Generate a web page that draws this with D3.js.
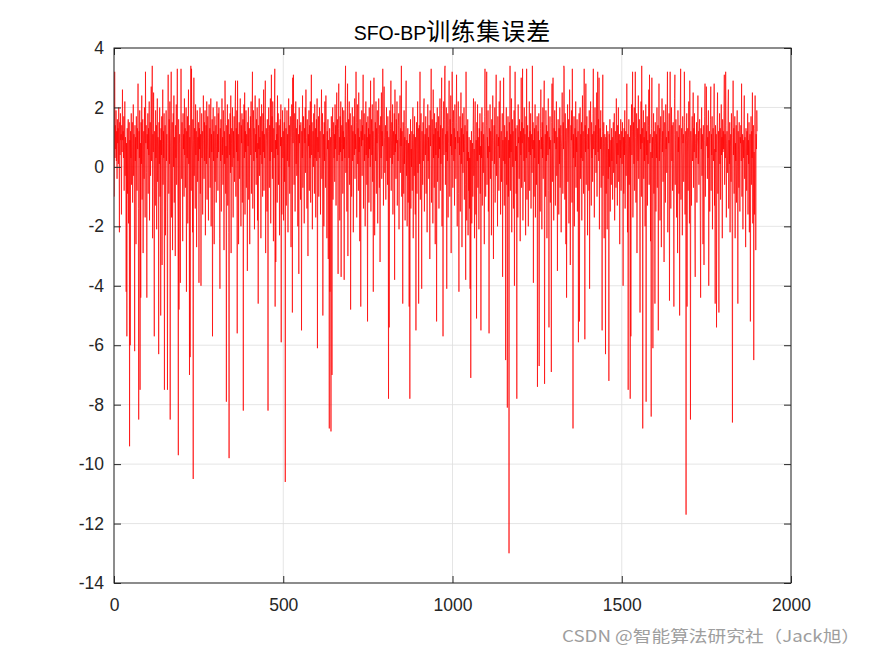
<!DOCTYPE html>
<html>
<head>
<meta charset="utf-8">
<script src="https://cdn.jsdelivr.net/npm/d3@7/dist/d3.min.js"></script>
<style>
  html, body { margin: 0; padding: 0; background: #fff; }
  svg { display: block; }
</style>
</head>
<body>
<svg id="chart" width="875" height="656"></svg>
<script>
// ---- data ----
const titleLatin = "SFO-BP";
const titleCJK = "训练集误差";
const watermark = "CSDN @智能算法研究社（Jack旭）";
const xTicks = [0, 500, 1000, 1500, 2000];
const yTicks = [-14, -12, -10, -8, -6, -4, -2, 0, 2, 4];
const xDomain = [0, 2000];
const yDomain = [-14, 4];
// training-set error, sample 1..1900
const errors = [
-1.0,3.2,0.3,1.4,0.6,1.9,0.2,1.2,-0.4,1.6,0.8,1.3,0.1,2.0,0.7,-2.2,1.5,0.4,1.8,0.9,1.1,-1.6,1.4,0.5,2.6,0.9,1.2,0.3,1.7,-0.8,0.6,2.2,-0.3,1.0,0.4,-4.2,0.8,-5.7,1.3,-0.9,0.5,1.6,-1.9,0.2,1.5,-9.4,0.9,-6.0,1.2,0.3,
1.8,-0.6,0.9,1.5,-1.2,0.4,2.1,-0.3,1.1,0.7,-6.2,1.4,0.2,1.0,-2.6,1.7,0.5,-0.8,1.3,0.6,2.8,-1.4,-8.5,1.2,0.3,1.9,-7.5,0.8,-4.4,1.5,0.1,2.4,-1.1,0.9,1.6,-2.9,0.7,1.2,-0.4,2.0,0.5,-1.7,3.2,0.8,1.4,-0.2,-4.4,1.1,0.6,1.8,
-0.9,1.3,0.4,2.2,-1.8,0.9,1.5,-0.3,1.0,2.7,0.2,1.6,3.4,-2.4,1.1,0.5,2.5,-0.7,-5.7,1.2,0.8,-1.3,1.9,0.3,1.4,-2.1,0.7,2.3,-0.5,1.0,0.6,-6.3,1.5,0.1,2.0,-1.0,0.9,-5.0,1.3,0.4,1.7,-3.3,0.8,2.6,-0.6,1.2,0.3,1.8,-7.5,0.9,
1.4,-2.3,0.6,1.9,0.2,1.1,-1.5,-7.5,0.8,3.1,0.5,-0.9,1.6,0.1,2.2,-8.5,0.7,1.3,3.2,-1.7,0.9,1.5,-2.8,0.4,1.8,0.0,2.4,-1.2,1.0,0.6,-3.0,1.4,0.3,2.1,-0.6,1.2,3.3,0.5,-2.0,-9.7,1.6,-4.8,0.8,1.1,-1.3,-3.9,0.7,3.3,1.0,-0.4,
1.5,0.2,-2.5,1.8,0.6,1.1,-1.0,2.3,0.4,1.3,-0.7,0.9,2.0,-4.2,1.2,0.3,1.7,-1.9,0.8,2.6,0.1,1.4,-7.0,1.0,-6.4,0.6,3.4,-0.8,3.3,1.1,0.5,-2.2,1.6,-10.5,0.9,3.0,-0.3,1.3,0.7,-1.4,2.1,0.4,1.2,-2.7,0.8,1.9,-0.5,1.0,0.2,1.5,
-3.9,1.3,0.6,2.0,-0.9,1.1,-4.0,0.7,1.8,0.3,1.2,-1.6,0.5,2.4,0.9,-0.4,1.5,0.2,1.9,-2.3,0.8,1.4,0.1,2.2,-1.1,0.6,1.7,0.4,-1.8,1.0,2.1,0.3,1.3,-0.7,0.9,2.3,-2.0,1.1,0.5,1.6,-5.7,0.8,2.0,0.2,1.2,-2.6,0.6,1.7,-0.5,1.0,
1.4,-1.2,0.7,2.2,0.3,1.1,-0.8,1.8,0.5,2.0,0.9,-2.4,-4.1,1.3,0.2,1.6,-1.5,0.8,2.3,0.4,1.0,-0.6,1.9,0.6,-2.8,1.2,0.1,2.9,1.5,-0.9,0.7,-7.9,1.4,0.3,2.1,-1.3,0.9,1.6,-2.2,-9.8,1.1,0.4,1.8,-0.2,2.4,-2.9,0.8,1.3,0.0,2.0,
0.6,-1.7,1.2,0.3,1.7,-0.5,0.9,2.2,2.9,-1.0,1.3,0.5,1.9,-5.6,2.9,0.2,1.1,-2.6,0.7,1.5,-0.4,1.0,2.3,0.4,-2.0,1.4,0.8,1.8,-1.2,0.6,1.6,-8.2,0.9,2.1,0.3,2.5,-1.6,1.2,0.5,1.9,-0.7,1.1,0.2,-3.5,1.5,0.7,2.0,-1.1,0.9,1.3,
-2.6,0.8,1.7,0.4,2.2,-0.9,1.0,1.5,3.2,-1.4,0.6,1.9,0.2,1.3,-2.1,0.9,2.4,0.5,1.1,-0.6,1.6,0.3,2.0,-1.8,0.8,-4.6,1.4,0.6,2.3,-0.3,1.0,0.4,1.7,-2.4,0.9,2.1,0.1,1.2,-1.0,1.8,0.5,2.6,-0.8,1.1,0.3,1.5,2.9,-2.9,0.7,1.3,
0.9,-1.5,1.6,0.4,-8.2,1.2,2.0,0.6,-0.7,1.4,0.2,2.3,-1.9,1.0,3.1,0.5,1.7,-0.4,2.2,0.8,-2.5,1.3,0.3,2.0,3.3,-4.7,0.9,-3.2,1.5,0.6,1.1,-1.2,2.4,0.4,1.8,-0.6,0.9,1.4,-2.3,0.2,1.6,0.7,2.1,-5.9,1.0,-1.6,0.5,1.9,0.3,1.2,
-1.8,0.9,1.5,-0.5,2.0,-10.6,0.4,1.3,-1.3,0.8,1.9,0.2,1.1,-2.2,0.6,2.3,0.0,1.4,-0.9,0.7,1.7,0.3,-2.7,1.0,2.1,0.5,-4.9,3.0,0.8,3.1,1.2,-0.6,0.4,1.8,-1.5,0.9,2.2,0.1,1.3,-0.3,0.7,1.6,-2.0,0.5,1.1,-3.6,2.0,0.8,1.4,0.2,
-1.1,1.5,0.6,-5.5,1.2,0.3,2.4,-0.7,0.9,1.7,0.4,-1.9,1.3,0.8,2.0,-0.2,2.6,1.0,0.5,-1.4,1.6,0.2,-3.0,1.1,0.7,1.9,-0.8,1.4,0.3,2.2,-1.2,0.9,3.1,0.4,1.5,-2.1,0.8,1.2,0.0,1.8,0.6,-0.9,2.1,0.3,1.3,-1.7,0.7,1.6,0.2,2.3,
-6.1,1.0,0.5,1.7,-1.0,0.8,2.0,0.3,1.2,-1.6,0.6,1.4,2.6,-0.4,0.9,1.8,-5.0,0.4,1.1,-2.0,1.5,0.2,2.2,0.7,-0.7,2.4,1.0,0.3,-2.4,1.2,0.6,1.6,-3.1,0.9,0.1,-8.8,1.3,-4.2,0.5,1.0,-8.9,1.7,0.4,-7.0,1.2,2.0,-1.1,0.8,1.5,0.3,
1.1,-0.5,2.1,0.6,1.4,-1.3,0.8,2.5,0.2,1.6,0.9,-3.6,1.3,2.8,0.4,1.0,-1.8,1.7,0.5,2.2,-3.7,0.8,1.4,0.2,2.0,-0.9,1.2,0.6,1.9,-3.8,1.0,0.3,2.4,3.4,-0.2,1.5,0.7,-1.5,1.1,2.8,-3.0,0.9,1.6,0.3,2.2,-0.6,1.0,1.8,-4.8,0.5,
1.4,-1.0,0.7,2.0,0.2,1.2,-2.2,0.9,1.7,0.4,2.3,-0.4,1.1,0.6,3.2,1.5,-1.7,0.8,2.1,0.1,1.3,-0.8,2.5,0.5,1.0,-2.5,1.6,0.3,-4.7,1.2,0.7,1.9,-0.3,1.4,0.9,3.1,-1.4,0.6,1.8,0.2,1.1,-2.0,0.8,2.2,0.4,1.5,-0.6,1.0,-5.2,1.7,
0.3,1.3,-1.2,2.0,0.6,1.1,0.0,2.9,-1.5,0.9,1.6,0.4,2.1,-0.5,1.2,-4.2,0.7,3.0,1.0,-2.3,0.5,1.5,0.2,2.2,-0.9,1.3,0.8,1.9,-1.9,0.4,1.1,2.3,0.6,-0.7,1.4,-3.2,0.9,1.7,0.3,2.5,-0.4,1.2,0.7,3.3,1.6,-1.3,0.5,2.7,1.0,-0.2,
0.8,1.4,-1.1,0.5,2.0,0.2,1.2,-0.6,1.7,0.4,-7.8,1.0,-5.4,0.6,1.9,0.3,1.3,2.9,-0.8,0.9,1.5,0.1,2.1,-1.6,0.7,1.2,0.4,1.8,-3.8,2.6,0.5,1.1,-0.4,1.6,0.8,2.2,-1.3,0.9,0.2,1.4,1.8,-2.1,0.6,1.0,2.4,-0.2,1.3,0.7,3.4,-1.0,
1.2,0.3,-4.6,1.5,0.6,-0.9,1.9,0.1,1.0,-1.8,0.7,1.4,2.9,-0.3,0.9,-2.0,0.4,1.3,-1.2,0.8,-0.5,-4.7,1.1,-7.8,0.2,1.6,-1.4,0.6,0.0,1.2,-0.8,0.9,2.0,-2.4,0.5,1.1,-0.3,1.7,0.4,-1.6,1.0,-5.5,0.6,1.5,-0.9,0.8,2.2,-0.2,1.3,-4.6,
0.5,1.4,0.1,3.2,-1.1,0.9,1.8,0.3,-4.1,1.2,0.7,-0.6,1.5,0.2,2.0,2.3,-1.5,0.8,1.1,0.4,1.7,-0.9,0.6,1.3,-2.2,0.9,2.1,0.2,1.0,-0.4,1.4,0.5,-3.1,1.9,0.7,1.2,3.3,-1.2,0.4,1.6,0.9,-1.9,2.6,0.3,1.1,-0.7,1.8,0.6,-2.6,1.3,
0.4,1.5,-5.2,0.8,2.0,-0.5,1.2,0.3,1.7,-1.4,1.0,0.6,2.3,-0.8,1.4,0.1,1.9,3.0,-2.0,0.7,1.3,-5.7,0.9,2.2,0.4,1.6,3.3,3.4,-0.6,1.1,0.5,2.0,-4.1,1.2,0.2,1.8,-1.7,0.8,1.4,2.9,0.3,-1.0,1.6,0.7,2.4,-2.9,1.1,0.4,3.2,1.5,
-0.7,0.9,1.9,0.2,1.3,-1.3,2.1,0.6,1.0,-0.4,1.5,3.1,0.3,-2.0,1.2,0.8,2.2,-0.9,-4.2,1.0,0.4,1.7,-1.5,0.9,2.5,0.1,1.3,-2.7,0.6,1.8,-0.2,1.1,0.5,2.0,-1.1,0.8,1.4,-0.6,-3.8,3.2,0.7,-1.8,1.2,0.2,1.6,-2.3,0.5,-0.8,1.0,-1.4,
0.3,-4.1,0.9,-7.1,-0.5,1.2,-1.9,0.4,0.8,-1.0,1.4,2.3,-0.3,0.6,-2.4,1.1,2.2,0.0,-1.6,0.9,-5.1,1.5,0.2,2.1,-0.7,1.0,0.5,-2.1,1.3,0.4,1.8,-0.9,0.7,-5.5,1.2,0.3,2.0,-1.3,0.8,1.5,-0.2,1.1,0.6,-2.6,1.7,3.3,0.4,-1.0,0.9,1.4,
3.2,-0.6,1.0,0.3,1.9,-1.5,0.7,-5.6,1.3,0.5,2.1,-0.4,1.2,0.8,-2.3,1.6,0.2,1.0,2.4,-0.9,-3.1,0.9,1.4,0.1,2.0,-1.2,0.6,1.3,3.1,-0.3,1.1,0.4,-2.0,1.7,0.7,1.0,-0.8,2.2,0.3,1.5,2.9,-1.6,0.8,1.2,-0.5,0.5,1.8,-3.7,0.9,0.2,
3.0,0.6,-1.3,1.4,0.1,1.0,-6.5,0.7,2.0,-0.6,1.2,-8.1,0.4,1.7,-1.0,0.9,-13.0,1.5,0.3,3.4,-0.8,1.1,0.5,2.3,-2.2,0.8,1.6,0.0,1.2,-1.4,0.6,1.9,-4.0,0.9,3.2,0.2,1.3,-0.9,0.7,-7.8,1.4,0.3,-1.7,2.1,0.8,1.0,-0.4,1.6,0.5,-2.5,
1.2,0.4,3.0,-0.7,1.5,0.8,3.3,-1.8,0.9,1.3,0.2,2.0,-0.5,1.1,0.6,-2.3,1.7,0.3,3.3,-1.1,0.8,1.4,0.1,-2.0,1.0,0.5,2.2,-0.8,1.2,0.4,1.8,-1.4,0.7,1.1,-0.2,3.4,0.6,1.5,-3.9,0.9,-1.0,1.3,0.3,2.1,-1.7,0.8,1.4,-0.6,0.5,1.7,
-7.4,0.7,1.2,0.1,1.8,-6.7,0.9,0.4,-1.5,1.3,2.6,0.6,1.0,-2.1,1.5,0.3,2.0,-0.4,0.8,1.6,2.9,-7.3,0.5,1.1,-1.0,1.9,0.2,1.4,-2.4,0.7,1.2,0.4,2.3,-0.8,-5.4,1.0,0.6,1.7,-1.2,0.9,0.3,-6.9,1.5,2.8,-0.5,1.1,3.0,0.4,-1.8,1.3,
0.8,1.9,0.2,-1.3,1.2,0.6,2.2,-0.3,1.0,-3.5,0.5,1.6,0.9,-1.6,1.3,0.1,2.0,-0.7,0.8,1.4,-2.2,0.7,1.1,2.5,0.3,-0.9,1.5,0.6,3.4,3.3,0.2,-1.1,1.8,0.9,-2.6,1.3,-4.4,0.5,1.0,2.1,-0.5,0.8,1.6,-1.9,0.4,2.6,1.2,-3.3,0.7,1.4,
0.9,1.9,-1.2,3.3,0.6,-8.8,1.1,0.3,1.7,-2.0,0.8,1.3,0.0,2.2,-0.7,1.0,0.5,1.6,-1.5,0.9,1.2,-5.9,0.4,1.8,-5.2,0.7,2.0,-0.4,1.1,0.3,1.5,-1.8,0.9,2.4,0.2,1.2,-0.9,0.6,3.3,1.0,-5.8,1.4,0.5,2.8,-0.6,0.9,1.7,0.2,-2.3,1.1,
0.6,1.3,-0.8,1.9,-4.1,0.4,1.0,2.2,0.7,-1.3,1.5,0.3,1.1,-0.5,1.8,3.3,0.6,1.2,-1.7,0.9,2.0,0.4,1.4,-0.2,0.8,2.5,-1.0,1.1,3.2,0.5,1.6,0.2,3.0,-2.1,0.9,1.3,0.6,1.9,-0.7,1.0,0.4,-5.5,1.2,3.1,-0.3,0.8,1.5,-2.4,0.7,1.1,
0.5,-6.3,1.0,-0.9,1.4,0.2,-2.1,0.8,1.2,-0.4,0.6,-7.2,1.1,0.0,1.6,-1.5,0.4,0.9,-0.6,1.3,0.2,1.0,-1.1,0.7,1.5,-0.2,0.5,1.8,-1.8,0.3,0.9,1.2,-0.7,2.3,0.1,0.8,-1.3,1.4,0.4,2.0,-0.5,0.6,1.1,-2.6,0.9,0.3,1.6,-0.8,0.7,1.2,
0.1,1.5,0.6,-4.0,1.0,-0.9,1.3,0.4,1.9,-1.4,0.8,1.2,-0.3,0.5,2.8,0.2,-2.2,1.1,-7.5,0.7,1.6,-0.6,1.0,0.3,-7.8,1.4,-5.7,0.9,2.1,0.4,1.2,3.2,-1.7,0.8,1.5,0.1,2.0,-0.8,0.6,3.2,1.0,-1.2,0.5,1.8,-2.9,0.7,1.3,0.2,2.4,-0.4,
0.9,1.6,0.3,-4.9,1.1,0.6,2.2,-1.0,3.4,0.8,1.3,-8.8,0.5,1.9,-0.4,1.0,0.2,1.5,-2.0,0.7,2.1,-7.9,1.2,0.4,1.7,-1.3,0.9,0.1,1.4,2.6,-0.6,3.1,0.8,1.1,-2.5,0.5,-8.4,1.3,3.0,0.3,1.0,-6.1,0.6,1.8,-0.9,1.2,0.4,-4.6,1.5,0.8,
-1.5,1.1,0.3,2.0,-0.7,0.9,1.4,-5.5,0.6,2.8,0.2,1.3,-1.8,0.8,1.7,0.4,-2.7,1.0,2.3,0.5,1.2,-0.5,0.7,1.9,-3.2,0.3,1.5,0.9,-1.2,2.1,0.6,1.0,-0.2,1.6,3.2,-2.2,0.4,1.2,0.8,1.8,-4.5,1.3,3.2,0.5,-1.4,1.0,2.0,0.2,1.4,-0.8,
0.7,1.5,0.1,-4.7,1.1,2.3,3.1,-0.6,0.9,1.6,0.3,-1.7,1.2,0.8,-2.9,1.9,0.5,1.0,-0.9,1.4,-5.0,0.6,2.0,3.3,-1.1,0.9,1.3,0.2,-2.3,1.7,0.8,1.1,-0.5,0.4,3.2,1.5,-1.6,0.7,1.2,-11.7,0.9,1.8,-4.7,0.5,1.3,-0.8,1.0,2.2,0.3,-1.9,
2.9,0.6,-8.5,1.2,0.4,-1.3,1.0,1.7,0.2,0.9,2.5,-0.7,1.3,0.5,1.8,-2.0,-3.7,0.8,1.1,0.3,1.5,-1.2,0.7,1.0,2.4,0.1,1.2,-0.6,0.9,1.6,0.4,-1.8,-4.4,1.3,0.6,2.0,-0.3,1.1,0.8,-2.6,1.4,0.2,-3.3,0.9,1.7,2.8,-1.0,0.5,1.2,2.7,
0.7,1.4,-0.4,1.0,0.3,1.9,-4.0,0.6,1.2,-1.5,0.9,1.6,2.7,-0.8,1.1,0.4,1.7,-2.1,0.8,1.3,0.2,1.0,2.8,-1.3,0.6,-4.6,1.4,0.5,1.1,-5.4,0.9,1.5,2.5,-0.9,0.3,1.2,-4.9,0.8,1.8,0.1,1.3,-1.1,0.7,2.1,0.4,1.0,-2.4,1.6,0.5,1.2,
0.6,1.9,3.1,-0.6,1.1,0.3,3.2,1.4,-1.7,0.8,1.2,-0.2,0.5,2.0,2.6,-1.4,0.9,0.1,1.5,-2.2,0.7,1.1,-0.5,1.8,0.3,-1.9,-8.6,1.0,2.9,0.4,1.3,-0.9,0.6,1.7,-2.4,0.8,0.2,1.4,-1.2,0.5,1.9,0.0,-4.6,1.2,0.6,-0.7,1.5,0.3,-1.5,1.0,
0.8,1.4,0.2,2.8,-1.0,0.6,1.1,-2.1,0.9,0.3,1.6,2.4,-0.4,1.0,0.5,-2.7,1.3,0.7,-0.8,1.2,0.4,1.8,-1.6,0.9,0.1,1.5,-2.2,0.6,1.1,-5.2,0.8,1.7,-0.6,1.2,0.3,2.5,-1.9,0.9,1.4,-6.5,0.5,-1.6,1.3,2.4,0.7,-2.8,1.1,0.6,1.9,1.2
];

// ---- layout ----
const W = 875, H = 656;
const plot = { left: 114, right: 791, top: 48, bottom: 583 };
const svg = d3.select("#chart");

const x = d3.scaleLinear().domain(xDomain).range([plot.left, plot.right]);
const y = d3.scaleLinear().domain(yDomain).range([plot.bottom, plot.top]);

const axisColor = "#262626";
const fontLatin = "'Liberation Sans', Arial, Helvetica, sans-serif";
const fontCJK = "'Noto Sans CJK SC', 'Noto Sans', sans-serif";

// grid
const gGrid = svg.append("g");
gGrid.selectAll("line.gx").data(xTicks).join("line")
  .attr("x1", d => x(d)).attr("x2", d => x(d))
  .attr("y1", plot.top).attr("y2", plot.bottom)
  .attr("stroke", "#dedede").attr("stroke-width", 0.8);
gGrid.selectAll("line.gy").data(yTicks).join("line")
  .attr("x1", plot.left).attr("x2", plot.right)
  .attr("y1", d => y(d)).attr("y2", d => y(d))
  .attr("stroke", "#dedede").attr("stroke-width", 0.8);

// data line
const line = d3.line().x((d, i) => x(i + 1)).y(d => y(d));
svg.append("path").datum(errors)
  .attr("d", line)
  .attr("fill", "none")
  .attr("stroke", "#ff0000")
  .attr("stroke-width", 0.7)
  .attr("stroke-linejoin", "miter");

// axes with inward ticks on all four sides
const tick = 7;
const fmt = d => String(d);
const axB = d3.axisBottom(x).tickValues(xTicks).tickFormat(fmt).tickSizeInner(-tick).tickSizeOuter(0).tickPadding(16);
const axT = d3.axisTop(x).tickValues(xTicks).tickSizeInner(-tick).tickSizeOuter(0).tickFormat("");
const axL = d3.axisLeft(y).tickValues(yTicks).tickFormat(fmt).tickSizeInner(-tick).tickSizeOuter(0).tickPadding(10);
const axR = d3.axisRight(y).tickValues(yTicks).tickSizeInner(-tick).tickSizeOuter(0).tickFormat("");

function styleAxis(g) {
  g.select(".domain").remove();
  g.selectAll(".tick line").attr("stroke", axisColor).attr("stroke-width", 1);
  g.selectAll(".tick text").attr("fill", axisColor)
    .style("font-family", fontLatin).style("font-size", "17.5px");
}
svg.append("g").attr("transform", `translate(0,${plot.bottom})`).call(axB).call(styleAxis);
svg.append("g").attr("transform", `translate(0,${plot.top})`).call(axT).call(styleAxis);
svg.append("g").attr("transform", `translate(${plot.left},0)`).call(axL).call(styleAxis);
svg.append("g").attr("transform", `translate(${plot.right},0)`).call(axR).call(styleAxis);

// box
svg.append("rect")
  .attr("x", plot.left).attr("y", plot.top)
  .attr("width", plot.right - plot.left).attr("height", plot.bottom - plot.top)
  .attr("fill", "none").attr("stroke", axisColor).attr("stroke-width", 1);

// title: Latin part + CJK part, laid out side by side and centred over the plot
const title = svg.append("text")
  .attr("y", 40)
  .attr("fill", "#000");
title.append("tspan")
  .style("font-family", fontLatin).style("font-size", "19.5px")
  .text(titleLatin);
title.append("tspan")
  .style("font-family", fontCJK).style("font-size", "24px")
  .style("letter-spacing", "1px")
  .text(titleCJK);
const tw = title.node().getComputedTextLength();
title.attr("x", (plot.left + plot.right) / 2 - tw / 2);

// watermark
svg.append("text")
  .attr("x", 562).attr("y", 642)
  .attr("fill", "#9e9e9e")
  .style("font-family", fontCJK).style("font-size", "16px")
  .attr("textLength", 298).attr("lengthAdjust", "spacingAndGlyphs")
  .text(watermark);
</script>
</body>
</html>
